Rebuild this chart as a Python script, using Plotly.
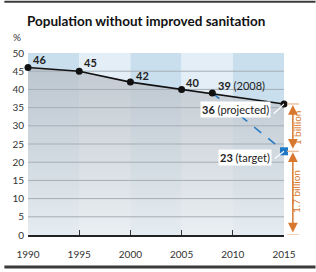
import plotly.graph_objects as go

# ---- data ----
years = [1990, 1995, 2000, 2005, 2008, 2015]
values = [46, 45, 42, 40, 39, 36]
point_labels = ["<b>46</b>", "<b>45</b>", "<b>42</b>", "<b>40</b>", "<b>39</b> (2008)", "<b>36</b> (projected)"]
target_years = [2008, 2015]
target_values = [39, 23]
band_edges = [1990, 1995, 2000, 2005, 2010, 2015]
y_ticks = [0, 5, 10, 15, 20, 25, 30, 35, 40, 45, 50]
x_ticks = [1990, 1995, 2000, 2005, 2010, 2015]
gap_labels = ["1 billion", "1.7 billion"]

FONT = "Lato"
ORANGE = "#d8782e"
BLUE = "#2a7cc2"

W, H = 316, 272
L, R, T, B = 24, 32, 53, 34
pw, ph = W - L - R, H - T - B


def px(x):
    return (x - L) / pw


def py(y):
    return (H - B - y) / ph


fig = go.Figure()

# grey fill under the line
fig.add_trace(go.Scatter(
    x=years, y=values, mode="none", fill="tozeroy",
    fillgradient=dict(type="vertical",
                      colorscale=[[0, "rgba(236,239,242,0.8)"], [1, "rgba(184,190,197,0.75)"]]),
    hoverinfo="skip", showlegend=False))

# gridlines (drawn above fill)
gx, gy = [], []
for t in y_ticks[1:-1]:
    gx += [x_ticks[0], x_ticks[-1], None]
    gy += [t, t, None]
fig.add_trace(go.Scatter(x=gx, y=gy, mode="lines", line=dict(color="#a6aeb5", width=1),
                         hoverinfo="skip", showlegend=False))

# target dashed line
fig.add_trace(go.Scatter(x=target_years, y=target_values, mode="lines",
                         line=dict(color=BLUE, width=1.6, dash="dash"), cliponaxis=False,
                         hoverinfo="skip", showlegend=False))
fig.add_trace(go.Scatter(x=[target_years[-1]], y=[target_values[-1]], mode="markers",
                         marker=dict(symbol="square", size=8, color="#1f78c6"), cliponaxis=False,
                         hoverinfo="skip", showlegend=False))

# main line
fig.add_trace(go.Scatter(x=years, y=values, mode="lines+markers",
                         line=dict(color="#111111", width=1.6), cliponaxis=False,
                         marker=dict(color="#111111", size=7),
                         hoverinfo="skip", showlegend=False))

shapes = []
# background bands
for i in range(len(band_edges) - 1):
    shapes.append(dict(type="rect", xref="x", yref="y", x0=band_edges[i], x1=band_edges[i + 1],
                       y0=0, y1=50, layer="below", line_width=0,
                       fillcolor="#c9dfee" if i % 2 == 0 else "#e3eef7"))
# borders top and bottom
shapes.append(dict(type="line", xref="paper", yref="paper", x0=px(0), x1=px(W), y0=py(0.8), y1=py(0.8),
                   line=dict(color="#3a3a3a", width=2)))
shapes.append(dict(type="line", xref="paper", yref="paper", x0=px(0), x1=px(W), y0=py(270.5), y1=py(270.5),
                   line=dict(color="#3a3a3a", width=3)))
# leader lines for boxed labels
shapes.append(dict(type="line", xref="x", yref="y", x0=2015, y0=36, x1=2014.0, y1=33.3,
                   line=dict(color="white", width=1.2)))
shapes.append(dict(type="line", xref="x", yref="y", x0=2015, y0=23, x1=2014.1, y1=21.0,
                   line=dict(color="white", width=1.2)))
# orange caps
for v in [values[-1], target_values[-1], 0]:
    shapes.append(dict(type="line", xref="paper", yref="y", x0=px(287), x1=px(299), y0=v, y1=v,
                       line=dict(color="#e8b48a", width=1.2)))

annotations = []
# title
annotations.append(dict(xref="paper", yref="paper", x=px(21), y=py(20), xanchor="left", yanchor="middle",
                        text="<b>Population without improved sanitation</b>", showarrow=False,
                        font=dict(family=FONT, size=13.5, color="#111")))
annotations.append(dict(xref="paper", yref="paper", x=px(13), y=py(37), xanchor="center", yanchor="middle",
                        text="%", showarrow=False, font=dict(family=FONT, size=10, color="#333")))

# point labels
offsets = [(3, 8), (3, 9), (4, 7), (2, 7), (4, 8)]
for i in range(5):
    annotations.append(dict(x=years[i], y=values[i], text=point_labels[i], showarrow=False,
                            xanchor="left", yanchor="middle", xshift=offsets[i][0], yshift=offsets[i][1],
                            font=dict(family=FONT, size=11, color="#222")))
annotations.append(dict(x=years[-1], y=values[-1], text=point_labels[-1], showarrow=False,
                        xanchor="right", yanchor="middle", xshift=-13, yshift=-6,
                        bgcolor="white", borderpad=1,
                        font=dict(family=FONT, size=11, color="#222")))
annotations.append(dict(x=target_years[-1], y=target_values[-1], text="<b>23</b> (target)", showarrow=False,
                        xanchor="right", yanchor="middle", xshift=-12, yshift=-6,
                        bgcolor="white", borderpad=1,
                        font=dict(family=FONT, size=11, color="#222")))

# orange double arrows
annotations.append(dict(xref="paper", yref="y", x=px(293), y=values[-1], axref="pixel", ayref="y",
                        ax=0, ay=target_values[-1], text="", showarrow=True, arrowside="end+start",
                        arrowhead=2, arrowsize=1.3, arrowwidth=1.5, arrowcolor=ORANGE,
                        standoff=1, startstandoff=1))
annotations.append(dict(xref="paper", yref="y", x=px(293), y=target_values[-1], axref="pixel", ayref="y",
                        ax=0, ay=0, text="", showarrow=True, arrowside="end+start",
                        arrowhead=2, arrowsize=1.3, arrowwidth=1.5, arrowcolor=ORANGE,
                        standoff=1, startstandoff=1))
annotations.append(dict(xref="paper", yref="y", x=px(305), y=(values[-1] + target_values[-1]) / 2,
                        text=gap_labels[0], showarrow=False, textangle=-90,
                        font=dict(family=FONT, size=10, color=ORANGE)))
annotations.append(dict(xref="paper", yref="y", x=px(305), y=target_values[-1] / 2 + 0.5,
                        text=gap_labels[1], showarrow=False, textangle=-90,
                        font=dict(family=FONT, size=10, color=ORANGE)))

fig.update_layout(
    width=W, height=H, margin=dict(l=L, r=R, t=T, b=B),
    paper_bgcolor="white", plot_bgcolor="rgba(0,0,0,0)",
    shapes=shapes, annotations=annotations, showlegend=False,
    xaxis=dict(range=[1990, 2015], tickvals=x_ticks, showgrid=False, zeroline=False,
               showline=True, linecolor="#222", linewidth=1.5, ticks="inside", ticklen=5,
               tickcolor="#333", tickwidth=1, tickfont=dict(family=FONT, size=10, color="#333"),
               ticklabelstandoff=9),
    yaxis=dict(range=[0, 50], tickvals=y_ticks, showgrid=False, zeroline=False, showline=False,
               ticks="", tickfont=dict(family=FONT, size=10, color="#333"), ticklabelstandoff=3),
)

fig.write_html("out.html")
